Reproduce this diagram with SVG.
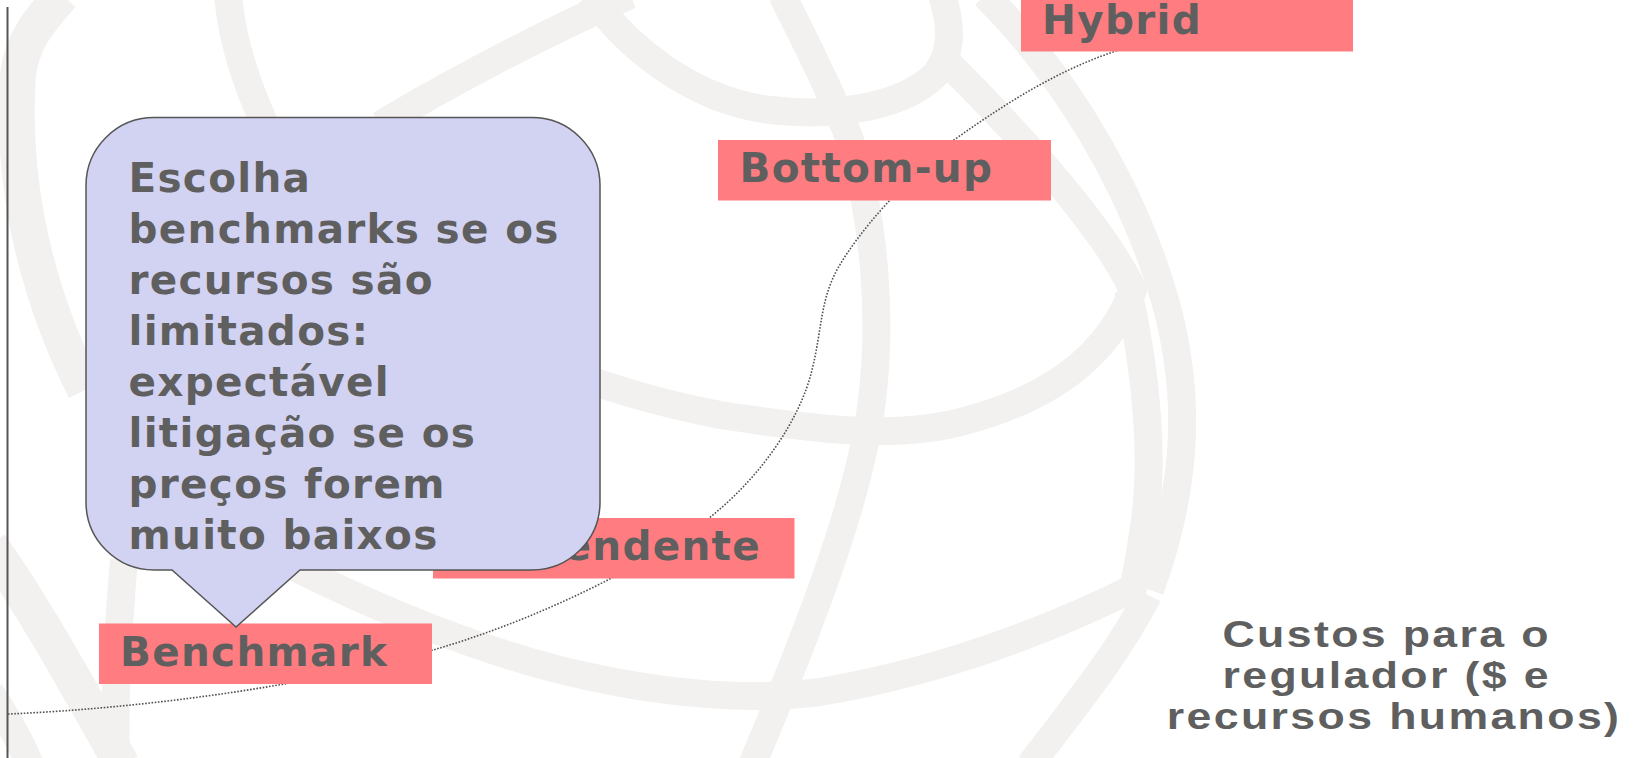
<svg xmlns="http://www.w3.org/2000/svg" width="1636" height="758" viewBox="0 0 1636 758">
  <style>
    .band { fill: none; stroke: #f2f1ef; stroke-width: 28; stroke-linecap: butt; stroke-linejoin: round; }
    .band.wide { stroke-width: 36; }
    .lbl-box { fill: #ff7c80; }
    .lbl { font-family: "DejaVu Sans", Verdana, sans-serif; font-weight: bold; font-size: 40.5px; letter-spacing: 1.3px; fill: #5f5f5f; }
    .note { font-family: "DejaVu Sans", Verdana, sans-serif; font-weight: bold; font-size: 40.5px; letter-spacing: 1.3px; fill: #5f5f5f; }
    .axis-title { font-family: "Liberation Sans", Arial, sans-serif; font-weight: bold; font-size: 37.5px; letter-spacing: 2px; fill: #5f5f5f; text-anchor: middle; }
    .curve { fill: none; stroke: #505050; stroke-width: 1.6; stroke-dasharray: 1.6 1.6; }
  </style>
  <rect width="1636" height="758" fill="#ffffff"/>

  <!-- faint globe artwork in the background -->
  <g id="globe">
    <path class="band wide" d="M 62 -5 C 40 20, 22 40, 18 75 C 12 160, 25 270, 85 390"/>
    <path class="band wide" d="M -10 545 C 30 600, 80 690, 122 765"/>
    <path class="band" d="M -10 692 C 5 715, 20 740, 30 765"/>
    <path class="band" d="M 124 560 C 117 640, 114 700, 116 765"/>
    <path class="band" d="M 228 -5 C 232 40, 245 80, 265 125"/>
    <path class="band" d="M 380 125 C 430 95, 520 45, 630 -5"/>
    <path class="band" d="M 590 -5 C 625 45, 690 100, 770 110 C 840 118, 905 105, 935 75 C 955 50, 950 20, 942 -5"/>
    <path class="band" d="M 782 -5 C 805 40, 830 90, 850 140 C 875 220, 882 320, 872 400 C 862 480, 830 580, 752 765"/>
    <path class="band" d="M 945 60 C 1010 125, 1100 220, 1133 290 C 1110 350, 1060 395, 968 420 C 900 440, 820 430, 720 415 C 670 405, 630 395, 560 370"/>
    <path class="band" d="M 985 -5 C 1060 70, 1130 180, 1165 300 C 1190 390, 1190 480, 1150 590"/>
    <path class="band" d="M 1128 290 C 1148 380, 1153 460, 1145 520 C 1140 555, 1136 580, 1130 600"/>
    <path class="band" d="M 1140 585 C 1060 625, 950 670, 820 692 C 740 702, 650 692, 560 670 C 470 647, 380 610, 290 565"/>
    <path class="band" d="M 1148 595 C 1120 650, 1080 700, 1030 765"/>
  </g>

  <!-- vertical axis -->
  <line x1="7.5" y1="7" x2="7.5" y2="758" stroke="#555555" stroke-width="2"/>

  <!-- dotted cost curve -->
  <g id="connectors">
    <path class="curve" d="M 8 714 C 150 708, 320 684, 433 650 C 530 622, 640 570, 709 518 C 760 478, 800 420, 812 370 C 822 330, 820 300, 838 268 C 860 230, 900 185, 954 140 C 1010 100, 1060 70, 1113 52 C 1140 42, 1170 35, 1200 30"/>
  </g>

  <g id="hybrid">
    <rect class="lbl-box" x="1021" y="-9" width="332" height="60.5"/>
    <text class="lbl" x="1042" y="34">Hybrid</text>
  </g>

  <g id="bottom-up">
    <rect class="lbl-box" x="718" y="140" width="333" height="60.5"/>
    <text class="lbl" x="739.5" y="182">Bottom-up</text>
  </g>

  <g id="independente">
    <rect class="lbl-box" x="433" y="518" width="361.5" height="60.5"/>
    <text class="lbl" x="761" y="560" text-anchor="end">Independente</text>
  </g>

  <g id="benchmark">
    <rect class="lbl-box" x="99" y="623.5" width="333" height="60.5"/>
    <text class="lbl" x="120" y="665.5">Benchmark</text>
  </g>

  <!-- speech bubble pointing at Benchmark -->
  <g id="callout">
    <path d="M 154 117.5 H 532 A 68 68 0 0 1 600 185.5 V 502 A 68 68 0 0 1 532 570 H 300 L 236 627 L 172 570 H 154 A 68 68 0 0 1 86 502 V 185.5 A 68 68 0 0 1 154 117.5 Z" fill="#d2d2f2" stroke="#555555" stroke-width="1.5"/>
    <text class="note">
      <tspan x="128.5" y="191.5">Escolha</tspan>
      <tspan x="128.5" y="242.5">benchmarks se os</tspan>
      <tspan x="128.5" y="293.5">recursos são</tspan>
      <tspan x="128.5" y="344.5">limitados:</tspan>
      <tspan x="128.5" y="395.5">expectável</tspan>
      <tspan x="128.5" y="446.5">litigação se os</tspan>
      <tspan x="128.5" y="498">preços forem</tspan>
      <tspan x="128.5" y="549">muito baixos</tspan>
    </text>
  </g>

  <!-- axis title, set in a horizontally widened face -->
  <g id="x-axis-title">
    <text class="axis-title" transform="scale(1.19 1)">
      <tspan x="1171.5" y="647">Custos para o</tspan>
      <tspan x="1171.5" y="688.5">regulador ($ e</tspan>
      <tspan x="1171.5" y="729">recursos humanos)</tspan>
    </text>
  </g>
</svg>
